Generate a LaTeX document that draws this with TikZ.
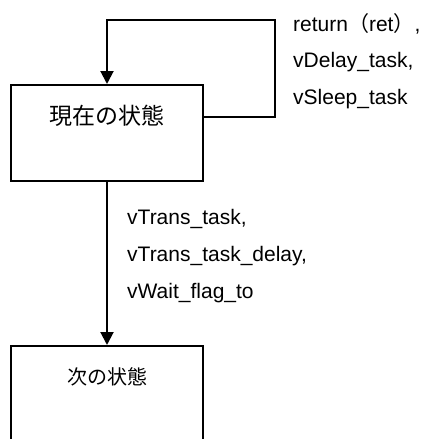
\documentclass[tikz,border=0pt]{standalone}
\usepackage{fontspec}
\setmainfont{Liberation Sans}
\newfontfamily\jpfont{Noto Sans CJK JP}
\usetikzlibrary{arrows.meta, positioning}

\begin{document}
\begin{tikzpicture}[x=1pt, y=1pt,
    state/.style={draw, line width=2pt, minimum width=192pt, minimum height=96pt, inner sep=0pt},
    flow/.style={line width=2pt, -{Triangle[width=13pt, length=13pt]}},
    cond/.style={anchor=base west, inner sep=0pt, font=\fontsize{21}{25}\selectfont}]

\useasboundingbox (0,0) rectangle (423,-439);

% Current state (top box)
\node[state] (cur) at (107,-133) {};
\node[font=\jpfont\fontsize{23}{23}\selectfont] (cur-text) at (107,-116) {現在の状態};

% Next state (bottom box, cut off by the page)
\node[state, minimum height=100pt, anchor=north] (next) at (107,-345) {};
\node[font=\jpfont\fontsize{20}{20}\selectfont] (next-text) at (107,-377) {次の状態};

% Self loop
\coordinate (loop-corner) at (275,-20);
\draw[flow] ([yshift=16pt]cur.east) -| (loop-corner) -| (cur.north);
\node[cond] (self-ret) at (293,-31) {return{\jpfont（}ret{\jpfont）},};
\node[cond] (self-delay) at (293,-67.5) {vDelay\_task,};
\node[cond] (self-sleep) at (293,-104) {vSleep\_task};

% Transition to next state
\draw[flow] (cur.south) -- (next.north);
\node[cond] (next-trans) at (127,-224) {vTrans\_task,};
\node[cond] (next-delay) at (127,-261) {vTrans\_task\_delay,};
\node[cond] (next-wait) at (127,-298) {vWait\_flag\_to};

\end{tikzpicture}
\end{document}
